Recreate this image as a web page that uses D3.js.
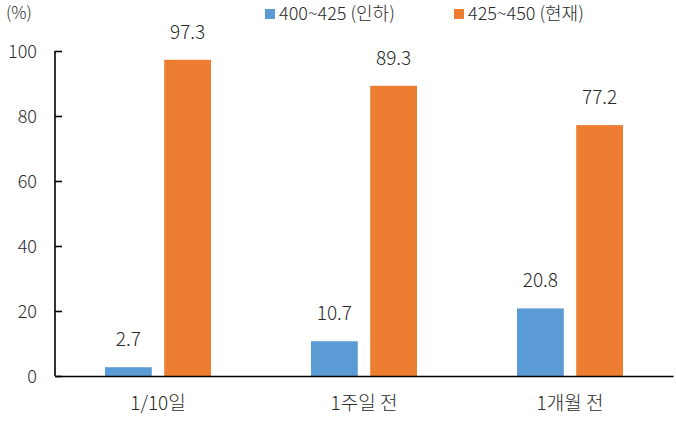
<!DOCTYPE html>
<html>
<head>
<meta charset="utf-8">
<script src="https://cdn.jsdelivr.net/npm/d3@7"></script>
<style>
  body { margin: 0; background: #fff; }
  text { font-family: "Noto Sans CJK KR", "Noto Sans", sans-serif; fill: #2a2a2a; font-weight: 300; }
</style>
</head>
<body>
<div id="chart"></div>
<script>
var categories = ["1/10일", "1주일 전", "1개월 전"];
var seriesNames = ["400~425 (인하)", "425~450 (현재)"];
var cut = [2.7, 10.7, 20.8];
var hold = [97.3, 89.3, 77.2];
var yTicks = [0, 20, 40, 60, 80, 100];
var colors = ["#5B9BD5", "#ED7D31"];

var width = 676, height = 422;
var m = { left: 55, right: 3, top: 51, bottom: 46 };

var svg = d3.select("#chart").append("svg")
  .attr("width", width).attr("height", height);

var x = d3.scaleBand().domain(categories)
  .range([m.left, width - m.right]).paddingInner(0).paddingOuter(0);
var xs = d3.scaleBand().domain([0, 1])
  .range([-53, 53]).paddingInner(0.21);
var y = d3.scaleLinear().domain([0, 100]).range([height - m.bottom, m.top]);

var rows = categories.map(function(c, i) { return [cut[i], hold[i]]; });

// 막대
var g = svg.append("g");
rows.forEach(function(vals, i) {
  var cx = x(categories[i]) + x.bandwidth() / 2;
  vals.forEach(function(v, j) {
    g.append("rect")
      .attr("x", cx + xs(j))
      .attr("y", y(v))
      .attr("width", xs.bandwidth())
      .attr("height", y(0) - y(v))
      .attr("fill", colors[j]);
    g.append("text")
      .attr("x", cx + xs(j) + xs.bandwidth() / 2)
      .attr("y", y(v) - 21)
      .attr("text-anchor", "middle")
      .style("font-size", "19px")
      .text(v.toFixed(1));
  });
});

// y축
var yAxis = svg.append("g")
  .attr("transform", "translate(" + m.left + ",0)")
  .call(d3.axisRight(y).tickValues(yTicks).tickSize(7).tickFormat(d3.format("d")));
yAxis.select(".domain").attr("stroke", "#000").attr("stroke-width", 1.6)
  .attr("d", "M0," + y(100) + "V" + y(0));
yAxis.selectAll(".tick line").attr("stroke", "#000").attr("stroke-width", 1.6);
yAxis.selectAll(".tick text")
  .attr("x", -18).attr("text-anchor", "end").attr("dy", "0.38em")
  .style("font-size", "18px").attr("fill", null);

// x축
var xAxis = svg.append("g")
  .attr("transform", "translate(0," + y(0) + ")")
  .call(d3.axisBottom(x).tickSize(0).tickPadding(21));
xAxis.select(".domain").attr("stroke", "#000").attr("stroke-width", 1.6);
xAxis.selectAll(".tick text").style("font-size", "19px").attr("fill", null);

svg.append("text").attr("x", 6).attr("y", 19)
  .style("font-size", "17px").text("(%)");

// 범례
var legX = [265, 454];
seriesNames.forEach(function(n, j) {
  svg.append("rect").attr("x", legX[j]).attr("y", 9)
    .attr("width", 10).attr("height", 10).attr("fill", colors[j]);
  svg.append("text").attr("x", legX[j] + 14).attr("y", 20)
    .style("font-size", "18px").text(n);
});
</script>
</body>
</html>
